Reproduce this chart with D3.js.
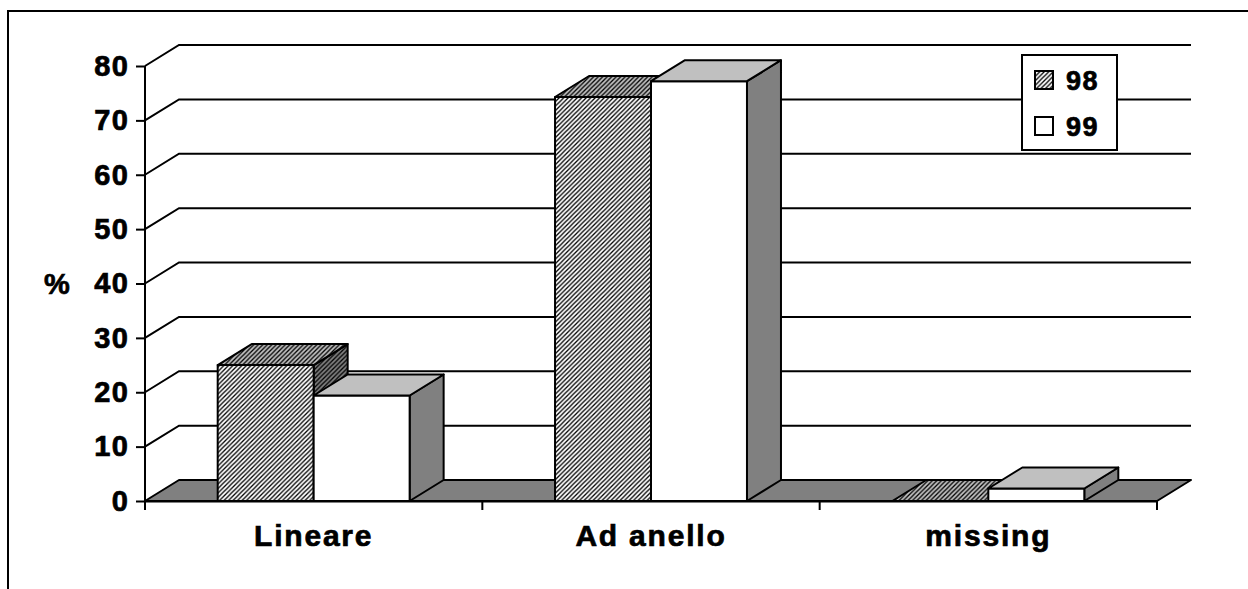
<!DOCTYPE html>
<html>
<head>
<meta charset="utf-8">
<script src="https://cdn.jsdelivr.net/npm/d3@7"></script>
<style>
  html, body { margin: 0; padding: 0; background: #fff; }
  svg { display: block; font-family: "Liberation Sans", Arial, sans-serif; font-weight: bold; }
  svg text { stroke: #000; stroke-width: 0.7px; paint-order: stroke; }
</style>
</head>
<body>
<svg id="chart" width="1248" height="589"></svg>
<script>
const categories = ["Lineare", "Ad anello", "missing"];
const seriesNames = ["98", "99"];
const values98 = [25.0, 74.3, 0];
const values99 = [19.4, 77.2, 2.3];
const yTicks = [0, 10, 20, 30, 40, 50, 60, 70, 80];
const yLabel = "%";

(function () {
const svg = d3.select("#chart");
const W = 1248, H = 589;
const plotL = 145, plotR = 1157, plotB = 501, plotT = 66;
const dx = 34, dy = -21;

const y = d3.scaleLinear().domain([0, 80]).range([plotB, plotT]);
const x0 = d3.scaleBand().domain(categories).range([plotL, plotR]).paddingInner(0.431).paddingOuter(0.2155);
const x1 = d3.scaleBand().domain(seriesNames).range([0, x0.bandwidth()]);

// patterns
const defs = svg.append("defs");
function hatch(id, bg) {
  const p = defs.append("pattern").attr("id", id).attr("patternUnits", "userSpaceOnUse")
    .attr("width", 4.5).attr("height", 4.5);
  p.append("rect").attr("width", 4.5).attr("height", 4.5).attr("fill", bg);
  p.append("path").attr("d", "M-1,1 l2,-2 M0,4.5 l4.5,-4.5 M3.5,5.5 l2,-2")
    .attr("stroke", "#000").attr("stroke-width", 1.3);
}
hatch("hFront", "#fff");
hatch("hTop", "#c0c0c0");
hatch("hSide", "#808080");

// outer frame
svg.append("path").attr("d", `M8,${H} L8,11 L${W},11`).attr("fill", "none")
  .attr("stroke", "#000").attr("stroke-width", 2);

// gridlines
yTicks.filter(t => t > 0).forEach(t => {
  const yy = y(t);
  svg.append("polyline")
    .attr("points", `${plotL},${yy} ${plotL + dx},${yy + dy} ${plotR + dx},${yy + dy}`)
    .attr("fill", "none").attr("stroke", "#000").attr("stroke-width", 2);
});

// floor
svg.append("polygon")
  .attr("points", `${plotL},${plotB} ${plotL + dx},${plotB + dy} ${plotR + dx},${plotB + dy} ${plotR},${plotB}`)
  .attr("fill", "#808080").attr("stroke", "#000").attr("stroke-width", 2).attr("stroke-linejoin", "round");

// bars
const fills = {
  "98": { front: "url(#hFront)", top: "url(#hTop)", side: "url(#hSide)" },
  "99": { front: "#fff", top: "#c0c0c0", side: "#808080" }
};
categories.forEach((c, i) => {
  const vals = { "98": values98[i], "99": values99[i] };
  seriesNames.forEach(s => {
    const xa = x0(c) + x1(s), xb = xa + x1.bandwidth();
    const yt = y(vals[s]), yb = y(0);
    const g = svg.append("g").attr("stroke", "#000").attr("stroke-width", 2).attr("stroke-linejoin", "round");
    if (yb - yt > 0.5) {
      g.append("polygon")
        .attr("points", `${xb},${yb} ${xb + dx},${yb + dy} ${xb + dx},${yt + dy} ${xb},${yt}`)
        .attr("fill", fills[s].side);
      g.append("rect").attr("x", xa).attr("y", yt).attr("width", xb - xa).attr("height", yb - yt)
        .attr("fill", fills[s].front);
    }
    g.append("polygon")
      .attr("points", `${xa},${yt} ${xa + dx},${yt + dy} ${xb + dx},${yt + dy} ${xb},${yt}`)
      .attr("fill", fills[s].top);
  });
});

// axes
const yAxis = d3.axisLeft(y).tickValues(yTicks).tickSize(9).tickPadding(7).tickSizeOuter(0);
const gy = svg.append("g").attr("transform", `translate(${plotL},0)`).call(yAxis);
gy.select(".domain").attr("stroke", "#000").attr("stroke-width", 2).attr("d", `M0,${plotT}V${plotB + 9}`);
gy.selectAll(".tick line").attr("stroke", "#000").attr("stroke-width", 2);
gy.selectAll(".tick text").attr("font-size", 29).attr("font-weight", "bold")
  .attr("font-family", "Liberation Sans, Arial, sans-serif").attr("letter-spacing", 1.2).attr("fill", "#000");

const xAxis = d3.axisBottom(x0).tickSize(0).tickPadding(24).tickSizeOuter(0);
const gx = svg.append("g").attr("transform", `translate(0,${plotB})`).call(xAxis);
gx.select(".domain").attr("stroke", "#000").attr("stroke-width", 2);
gx.selectAll(".tick text").attr("font-size", 30).attr("font-weight", "bold")
  .attr("font-family", "Liberation Sans, Arial, sans-serif").attr("letter-spacing", 1.8).attr("fill", "#000");
// category boundary ticks
const bounds = categories.map(c => x0(c) - x0.step() * x0.paddingOuter()).concat([plotR]);
gx.selectAll("line.bound").data(bounds).enter().append("line").attr("class", "bound")
  .attr("x1", d => d).attr("x2", d => d).attr("y1", 0).attr("y2", 9)
  .attr("stroke", "#000").attr("stroke-width", 2);

// y label
svg.append("text").attr("x", 57).attr("y", y(40) + 10).attr("text-anchor", "middle")
  .attr("font-size", 29).text(yLabel);

// legend
const lg = svg.append("g");
lg.append("rect").attr("x", 1022).attr("y", 55).attr("width", 95).attr("height", 95)
  .attr("fill", "#fff").attr("stroke", "#000").attr("stroke-width", 2);
seriesNames.forEach((s, i) => {
  const yy = 71 + i * 46;
  lg.append("rect").attr("x", 1035).attr("y", yy).attr("width", 18).attr("height", 18)
    .attr("fill", fills[s].front).attr("stroke", "#000").attr("stroke-width", 2);
  lg.append("text").attr("x", 1066).attr("y", yy + 19).attr("font-size", 27)
    .attr("letter-spacing", 1.5).text(s);
});
})();
</script>
</body>
</html>
